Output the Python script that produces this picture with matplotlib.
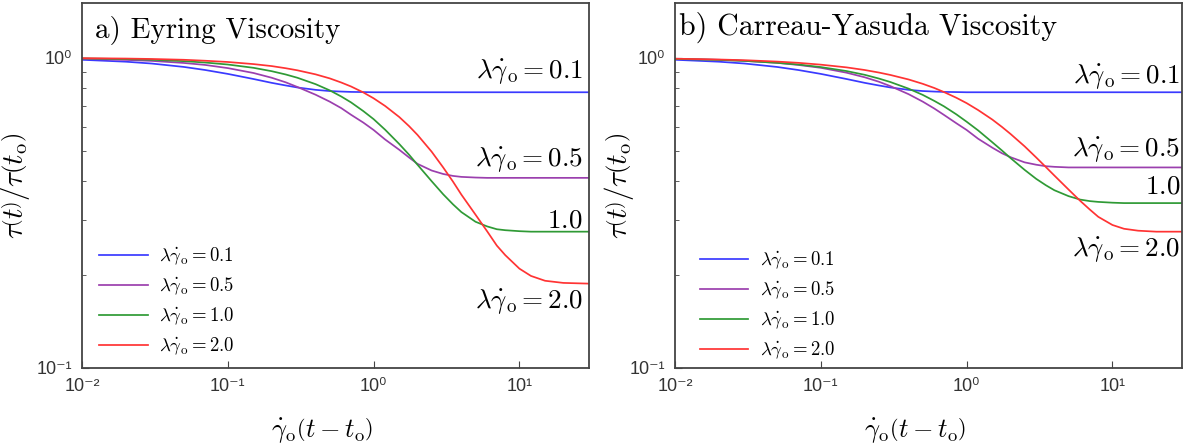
import matplotlib
matplotlib.use('Agg')
from matplotlib import pyplot as plt

plt.rcParams['mathtext.fontset'] = 'cm'

# shared time axis, gamma_dot_o * (t - t_o)
t = [0.01, 0.02, 0.03, 0.05, 0.07, 0.1, 0.15, 0.2, 0.25, 0.3, 0.4, 0.5, 0.6, 0.7, 0.85,
     1, 1.2, 1.5, 1.75, 2, 2.5, 3, 3.5, 4, 5, 6, 7, 8, 10, 12, 15, 20, 30]

# a) Eyring viscosity, tau(t)/tau(t_o)
eyring_01 = [0.985, 0.971, 0.958, 0.934, 0.913, 0.887, 0.854, 0.830, 0.814, 0.802, 0.788, 0.781,
             0.778, 0.776, 0.775, 0.774, 0.774, 0.774, 0.774, 0.774, 0.774, 0.774, 0.774, 0.774,
             0.774, 0.774, 0.774, 0.774, 0.774, 0.774, 0.774, 0.774, 0.774]
eyring_05 = [0.992, 0.984, 0.977, 0.962, 0.948, 0.926, 0.893, 0.862, 0.833, 0.805, 0.760, 0.722,
             0.688, 0.655, 0.618, 0.585, 0.545, 0.505, 0.477, 0.455, 0.433, 0.422, 0.416, 0.413,
             0.411, 0.410, 0.410, 0.410, 0.410, 0.410, 0.410, 0.410, 0.410]
eyring_10 = [0.995, 0.990, 0.985, 0.975, 0.965, 0.951, 0.928, 0.905, 0.883, 0.862, 0.822, 0.785,
             0.750, 0.718, 0.673, 0.634, 0.586, 0.527, 0.487, 0.452, 0.400, 0.363, 0.337, 0.318,
             0.296, 0.286, 0.280, 0.278, 0.276, 0.275, 0.275, 0.275, 0.275]
eyring_20 = [0.997, 0.994, 0.991, 0.985, 0.978, 0.969, 0.954, 0.940, 0.925, 0.911, 0.884, 0.858,
             0.832, 0.808, 0.773, 0.740, 0.699, 0.644, 0.602, 0.564, 0.498, 0.443, 0.399, 0.362,
             0.312, 0.276, 0.248, 0.231, 0.209, 0.198, 0.191, 0.188, 0.187]

# b) Carreau-Yasuda viscosity
cy_01 = [0.985, 0.971, 0.958, 0.934, 0.913, 0.887, 0.854, 0.830, 0.814, 0.802, 0.788, 0.781,
         0.778, 0.776, 0.775, 0.774, 0.774, 0.774, 0.774, 0.774, 0.774, 0.774, 0.774, 0.774,
         0.774, 0.774, 0.774, 0.774, 0.774, 0.774, 0.774, 0.774, 0.774]
cy_05 = [0.992, 0.985, 0.977, 0.963, 0.948, 0.928, 0.895, 0.865, 0.837, 0.810, 0.763, 0.722,
         0.686, 0.654, 0.615, 0.585, 0.548, 0.513, 0.492, 0.478, 0.460, 0.452, 0.447, 0.445,
         0.443, 0.443, 0.443, 0.443, 0.443, 0.443, 0.443, 0.443, 0.443]
cy_10 = [0.991, 0.984, 0.977, 0.963, 0.951, 0.933, 0.906, 0.881, 0.857, 0.835, 0.795, 0.759,
         0.726, 0.697, 0.657, 0.622, 0.583, 0.534, 0.502, 0.475, 0.435, 0.407, 0.388, 0.374,
         0.358, 0.349, 0.345, 0.343, 0.341, 0.340, 0.340, 0.340, 0.340]
cy_20 = [0.993, 0.987, 0.982, 0.972, 0.963, 0.950, 0.931, 0.913, 0.896, 0.880, 0.851, 0.824,
         0.799, 0.775, 0.743, 0.714, 0.678, 0.632, 0.598, 0.568, 0.518, 0.477, 0.444, 0.417,
         0.376, 0.346, 0.324, 0.307, 0.289, 0.281, 0.277, 0.275, 0.275]

lam_gamma = ['0.1', '0.5', '1.0', '2.0']
colors = ['#3a3aff', '#9b3fae', '#2f9a35', '#ff3333']

xticks = [0.01, 0.1, 1, 10]
xticklabels = ['10\u207b\u00b2', '10\u207b\u00b9', '10\u2070', '10\u00b9']
yticks = [0.1, 1]
yticklabels = ['10\u207b\u00b9', '10\u2070']

lg = r'$\lambda\dot{\gamma}_{\mathrm{o}} = %s$'
tick_font = ['Liberation Sans', 'DejaVu Sans']


def draw_panel(ax, curves, title, title_pos, notes, legend_anchor):
    for y, c, lab in zip(curves, colors, lam_gamma):
        ax.plot(t, y, color=c, lw=1.25, label=lg % lab)
    ax.set_xscale('log')
    ax.set_yscale('log')
    ax.set_xlim(0.01, 30)
    ax.set_ylim(0.1, 1.5)

    ax.set_xticks(xticks, xticklabels, family=tick_font, fontsize=13, color='#333333')
    ax.set_yticks(yticks, yticklabels, family=tick_font, fontsize=13, color='#333333')
    ax.xaxis.set_minor_locator(matplotlib.ticker.NullLocator())
    ax.yaxis.set_minor_locator(matplotlib.ticker.LogLocator(subs=range(2, 10)))
    ax.yaxis.set_minor_formatter(matplotlib.ticker.NullFormatter())
    ax.tick_params(which='both', direction='in', color='#444444')
    ax.tick_params(which='major', length=5, pad=7)
    ax.tick_params(which='minor', length=3)
    for s in ax.spines.values():
        s.set_color('#444444')
        s.set_linewidth(1.3)

    ax.text(title_pos[0], title_pos[1], title, transform=ax.transAxes, family='cmr10',
            fontsize=title_pos[2], ha='left', va='center')
    for (txt, yy, xx) in notes:
        ax.text(xx, yy, txt, transform=ax.transAxes, fontsize=19.5, ha='right', va='center')

    ax.set_xlabel(r'$\dot{\gamma}_{\mathrm{o}}\left(t - t_{\mathrm{o}}\right)$', fontsize=19)
    ax.set_ylabel(r'$\tau\left(t\right)/\tau\left(t_{\mathrm{o}}\right)$', fontsize=21)
    ax.xaxis.set_label_coords(0.473, -0.135)

    ax.legend(loc='upper left', bbox_to_anchor=legend_anchor, frameon=False, fontsize=13.5,
              handlelength=2.6, labelspacing=0.45, handletextpad=0.6)


fig = plt.figure(figsize=(11.92, 4.46), dpi=100)
ax1 = fig.add_axes([0.0688, 0.175, 0.4253, 0.818])
ax2 = fig.add_axes([0.5663, 0.175, 0.4253, 0.818])

draw_panel(ax1, [eyring_01, eyring_05, eyring_10, eyring_20], 'a) Eyring Viscosity', (0.026, 0.926, 21),
           [(lg % '0.1', 0.811, 0.988), (lg % '0.5', 0.570, 0.988),
            (r'$1.0$', 0.405, 0.988), (lg % '2.0', 0.181, 0.988)],
           (0.0, 0.381))
ax1.yaxis.set_label_coords(-0.099, 0.5)

draw_panel(ax2, [cy_01, cy_05, cy_10, cy_20], 'b) Carreau-Yasuda Viscosity', (0.008, 0.934, 21.5),
           [(lg % '0.1', 0.797, 0.996), (lg % '0.5', 0.597, 0.996),
            (r'$1.0$', 0.497, 0.996), (lg % '2.0', 0.323, 0.996)],
           (0.015, 0.371))
ax2.yaxis.set_label_coords(-0.077, 0.5)

fig.savefig('out.png', dpi=100)
